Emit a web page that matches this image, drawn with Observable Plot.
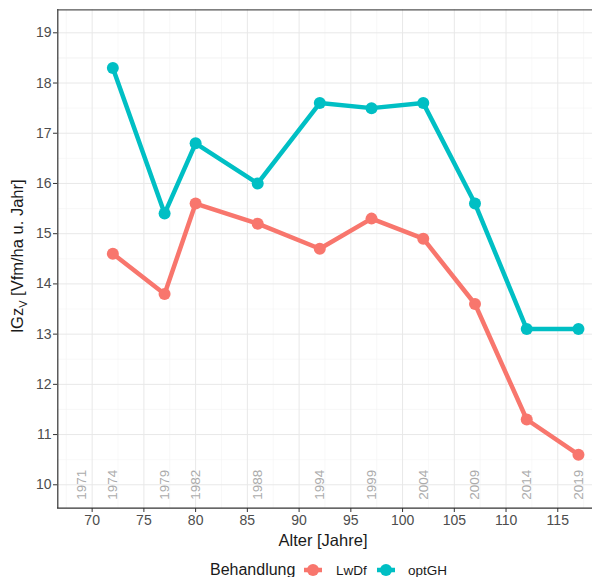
<!DOCTYPE html>
<html><head><meta charset="utf-8">
<script src="https://cdn.jsdelivr.net/npm/d3@7"></script>
<script src="https://cdn.jsdelivr.net/npm/@observablehq/plot@0.6"></script>
<style>
body{margin:0;background:#fff;font-family:Arial,"Liberation Sans",sans-serif;overflow:hidden;}
#legend svg{display:block;}
</style>
</head><body>
<div id="chart"></div>
<div id="legend"></div>
<script>
const ages = [72, 77, 80, 86, 92, 97, 102, 107, 112, 117];
const optGH = [18.3, 15.4, 16.8, 16.0, 17.6, 17.5, 17.6, 15.6, 13.1, 13.1];
const LwDf = [14.6, 13.8, 15.6, 15.2, 14.7, 15.3, 14.9, 13.6, 11.3, 10.6];
const yearAges = [69, 72, 77, 80, 86, 92, 97, 102, 107, 112, 117];
const yearLabels = ["1971","1974","1979","1982","1988","1994","1999","2004","2009","2014","2019"];
const groups = ["LwDf", "optGH"];
const colors = ["#F8766D", "#00BFC4"];
const xTicks = [70, 75, 80, 85, 90, 95, 100, 105, 110, 115];
const yTicks = [10, 11, 12, 13, 14, 15, 16, 17, 18, 19];

const data = [
  ...ages.map((a, i) => ({age: a, v: LwDf[i], g: "LwDf"})),
  ...ages.map((a, i) => ({age: a, v: optGH[i], g: "optGH"}))
];
const years = yearAges.map((a, i) => ({age: a, label: yearLabels[i]}));
const xDom = [66.68, 119.4];
const yDom = [9.534, 19.458];
const xMinor = xTicks.map(d => d - 2.5).concat([117.5]);
const yMinor = yTicks.map(d => d - 0.5).concat([18.5]).filter(d => d > yDom[0] && d < yDom[1]);

const plot = Plot.plot({
  width: 592, height: 552,
  marginLeft: 57, marginRight: 0, marginTop: 9, marginBottom: 44,
  style: {fontFamily: "Arial, 'Liberation Sans', sans-serif", fontSize: "14px", color: "#4D4D4D", overflow: "hidden"},
  x: {domain: xDom, range: [57.3, 602.8], ticks: xTicks, label: null},
  y: {domain: yDom, range: [507.7, 9.3], ticks: yTicks, label: null},
  color: {domain: groups, range: colors},
  marks: [
    Plot.gridX(xMinor, {stroke: "#f3f3f3", strokeOpacity: 1, strokeWidth: 0.6}),
    Plot.gridY(yMinor, {stroke: "#f3f3f3", strokeOpacity: 1, strokeWidth: 0.6}),
    Plot.gridX(xTicks, {stroke: "#e8e8e8", strokeOpacity: 1, strokeWidth: 1}),
    Plot.gridY(yTicks, {stroke: "#e8e8e8", strokeOpacity: 1, strokeWidth: 1}),
    Plot.text(years, {x: "age", y: 10, text: "label", rotate: -90, fill: "#ababab", fontSize: 13.5}),
    Plot.line(data, {x: "age", y: "v", z: "g", stroke: "g", strokeWidth: 4.5, strokeLinejoin: "round"}),
    Plot.dot(data, {x: "age", y: "v", fill: "g", r: 6}),
    Plot.ruleX([xDom[0]], {stroke: "#333333", strokeWidth: 1.2}),
    Plot.ruleY([yDom[0]], {stroke: "#333333", strokeWidth: 1.2}),
    Plot.ruleY([yDom[1]], {stroke: "#555555", strokeWidth: 1.2}),
    Plot.axisX({ticks: xTicks, tickSize: 4, tickPadding: 3, label: null, fill: "#4D4D4D", stroke: "#333", fontSize: 14}),
    Plot.axisY({ticks: yTicks, tickSize: 4, tickPadding: 2, label: null, fill: "#4D4D4D", stroke: "#333", fontSize: 14})
  ]
});
document.getElementById("chart").appendChild(plot);

const svg = d3.select(plot);
svg.append("text")
  .attr("x", 323).attr("y", 546)
  .attr("text-anchor", "middle")
  .attr("font-size", 16.5).attr("fill", "#1a1a1a")
  .text("Alter [Jahre]");
const yl = svg.append("text")
  .attr("transform", "translate(23,256) rotate(-90)")
  .attr("text-anchor", "middle")
  .attr("font-size", 16.5).attr("fill", "#1a1a1a");
yl.append("tspan").text("lGz");
yl.append("tspan").attr("font-size", 11).attr("dy", 4).text("V");
yl.append("tspan").attr("dy", -4).text(" [Vfm/ha u. Jahr]");

const leg = d3.select("#legend").append("svg").attr("width", 592).attr("height", 25)
  .style("font-family", "Arial, 'Liberation Sans', sans-serif");
leg.append("text").attr("x", 210).attr("y", 23).attr("font-size", 16).attr("fill", "#1a1a1a").text("Behandlung");
const keyX = [313, 386];
const labX = [336, 408];
groups.forEach((g, i) => {
  leg.append("line").attr("x1", keyX[i] - 9).attr("x2", keyX[i] + 9).attr("y1", 18).attr("y2", 18)
    .attr("stroke", colors[i]).attr("stroke-width", 4.5);
  leg.append("circle").attr("cx", keyX[i]).attr("cy", 18).attr("r", 6).attr("fill", colors[i]);
  leg.append("text").attr("x", labX[i]).attr("y", 23).attr("font-size", 13.5).attr("fill", "#1a1a1a").text(g);
});
</script>
</body></html>
